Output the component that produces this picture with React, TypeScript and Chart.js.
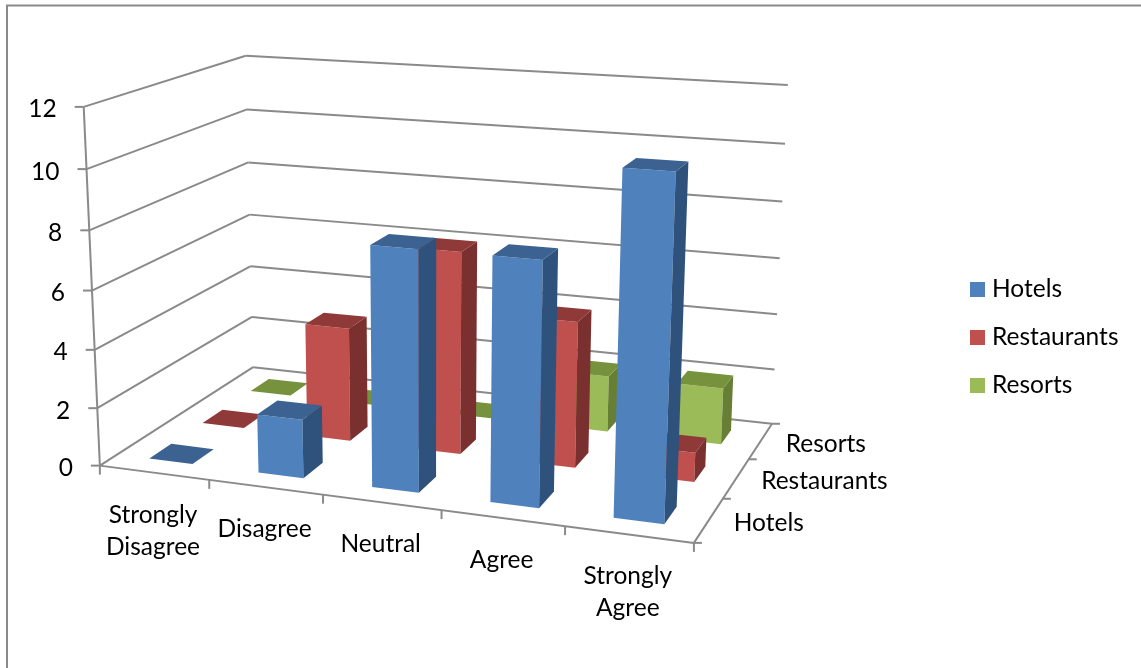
import React, { useEffect, useRef } from "react";
import { Chart, BarController, registerables } from "chart.js";

const responses = [["Strongly", "Disagree"], "Disagree", "Neutral", "Agree", ["Strongly", "Agree"]];
const seriesNames = ["Hotels", "Restaurants", "Resorts"];
const hotels = [0, 2, 8, 8, 11];
const restaurants = [0, 4, 7, 5, 1];
const resorts = [0, 0, 0, 2, 2];
const faceColors = ["#4F81BD", "#C0504D", "#9BBB59"];
const topColors = ["#3C6292", "#8F3A38", "#76923C"];
const sideColors = ["#2F527C", "#7A302E", "#677F35"];

const GRID = "#8A8A8A";
const FONT = "24.5px Lato";

// Seven corners of the plot box (x, value, depth) and where each one lands on the canvas.
const BOX_CORNERS: number[][] = [
  [0, 0, 0, 100, 465.7],
  [1, 0, 0, 694, 542.7],
  [0, 1, 0, 83.5, 107],
  [0, 0, 1, 253, 367],
  [1, 0, 1, 772, 424],
  [0, 1, 1, 246, 55.7],
  [1, 1, 1, 787.7, 85],
];

// Least-squares fit of a 3x4 projective camera to the box corners.
function solveCamera(corners: number[][]): number[] {
  const rows: number[][] = [];
  for (const [x, y, z, u, v] of corners) {
    rows.push([x, y, z, 1, 0, 0, 0, 0, -u * x, -u * y, -u * z, u]);
    rows.push([0, 0, 0, 0, x, y, z, 1, -v * x, -v * y, -v * z, v]);
  }
  const n = 11;
  const m = Array.from({ length: n }, (_, i) =>
    Array.from({ length: n + 1 }, (_, j) => rows.reduce((s, r) => s + r[i] * r[j], 0))
  );
  for (let c = 0; c < n; c++) {
    let p = c;
    for (let r = c + 1; r < n; r++) if (Math.abs(m[r][c]) > Math.abs(m[p][c])) p = r;
    [m[c], m[p]] = [m[p], m[c]];
    for (let r = 0; r < n; r++) {
      if (r === c) continue;
      const f = m[r][c] / m[c][c];
      for (let k = c; k <= n; k++) m[r][k] -= f * m[c][k];
    }
  }
  return m.map((row, i) => row[n] / row[i]);
}

const cam = solveCamera(BOX_CORNERS);
function project(x: number, y: number, z: number): [number, number] {
  const w = cam[8] * x + cam[9] * y + cam[10] * z + 1;
  return [
    (cam[0] * x + cam[1] * y + cam[2] * z + cam[3]) / w,
    (cam[4] * x + cam[5] * y + cam[6] * z + cam[7]) / w,
  ];
}

// Scale positions expressed as fractions of each axis, ready for the camera.
const fracX = (s: any, v: number) => (s.getPixelForValue(v) - s.left) / s.width;
const fracY = (s: any, v: number) => (s.bottom - s.getPixelForValue(v)) / s.height;

function poly(ctx: CanvasRenderingContext2D, pts: [number, number][], color: string) {
  ctx.fillStyle = color;
  ctx.beginPath();
  pts.forEach((p, i) => (i ? ctx.lineTo(p[0], p[1]) : ctx.moveTo(p[0], p[1])));
  ctx.closePath();
  ctx.fill();
}

// Bars take 40% of a category slot along both floor directions.
const BAR_FRACTION = 0.4;

class Bar3DController extends BarController {
  static id = "bar3d";
  static defaults = BarController.defaults;
  static overrides = BarController.overrides;

  draw() {
    const meta = this.getMeta();
    const ctx = this.chart.ctx;
    const { xScale, yScale } = meta as any;
    const zScale = (this.chart.scales as any).z;
    const k = this.index;
    const dx = (BAR_FRACTION / 2) / xScale.getLabels().length;
    const dz = (BAR_FRACTION / 2) / zScale.getLabels().length;
    const zc = fracX(zScale, k);
    const z0 = zc - dz;
    const z1 = zc + dz;
    ctx.save();
    for (let i = 0; i < meta.data.length; i++) {
      const xc = fracX(xScale, i);
      const x0 = xc - dx;
      const x1 = xc + dx;
      const value = (this.getParsed(i) as any).y;
      const top = fracY(yScale, value);
      if (value > 0) {
        poly(ctx, [project(x0, 0, z0), project(x1, 0, z0), project(x1, top, z0), project(x0, top, z0)], faceColors[k]);
        poly(ctx, [project(x1, 0, z0), project(x1, 0, z1), project(x1, top, z1), project(x1, top, z0)], sideColors[k]);
      }
      poly(ctx, [project(x0, top, z0), project(x1, top, z0), project(x1, top, z1), project(x0, top, z1)], topColors[k]);
    }
    ctx.restore();
  }
}

const box3d = {
  id: "box3d",
  beforeDatasetsDraw(chart: any) {
    const { ctx, scales } = chart;
    const { x: xs, y: ys, z: zs } = scales;
    const line = (a: [number, number], b: [number, number]) => {
      ctx.beginPath();
      ctx.moveTo(a[0], a[1]);
      ctx.lineTo(b[0], b[1]);
      ctx.stroke();
    };
    ctx.save();
    ctx.strokeStyle = GRID;

    // Outer frame, cut off by the canvas on the right and at the bottom.
    ctx.lineWidth = 2;
    ctx.beginPath();
    ctx.moveTo(7, 668);
    ctx.lineTo(7, 5.5);
    ctx.lineTo(1141, 5.5);
    ctx.stroke();

    ctx.fillStyle = "#000";
    ctx.font = FONT;
    ctx.textBaseline = "middle";

    // Value axis: wall gridlines, ticks and labels.
    ctx.textAlign = "right";
    for (const t of ys.ticks) {
      const f = fracY(ys, t.value);
      const a = project(0, f, 0);
      line(a, project(0, f, 1));
      line(project(0, f, 1), project(1, f, 1));
      line([a[0] - 9, a[1]], a);
      ctx.fillText(String(t.value), a[0] - 27, a[1] + 2.5);
    }
    line(project(0, 0, 0), project(0, 1, 0));

    // Floor edges.
    line(project(0, 0, 0), project(1, 0, 0));
    line(project(1, 0, 0), project(1, 0, 1));

    // Category axis along the front edge.
    const labels = xs.getLabels();
    ctx.textAlign = "center";
    for (let i = 0; i <= labels.length; i++) {
      const a = project(i / labels.length, 0, 0);
      line(a, [a[0], a[1] + 9]);
    }
    labels.forEach((label: string | string[], i: number) => {
      const a = project(fracX(xs, i), 0, 0);
      const lines = Array.isArray(label) ? label : [label];
      lines.forEach((s, j) => ctx.fillText(s, a[0] - 1, a[1] + 42 + j * 32));
    });

    // Depth axis along the right edge of the floor.
    const depth = zs.getLabels();
    ctx.textAlign = "left";
    for (let j = 0; j <= depth.length; j++) {
      const a = project(1, 0, j / depth.length);
      line(a, [a[0] + 8, a[1]]);
    }
    depth.forEach((label: string, j: number) => {
      const a = project(1, 0, fracX(zs, j));
      ctx.fillText(label, a[0] + 25, a[1] + 3);
    });

    // Legend column to the right of the plot box.
    chart.data.datasets.forEach((ds: any, i: number) => {
      const y = 289.5 + i * 48;
      ctx.fillStyle = ds.backgroundColor;
      ctx.fillRect(970, y - 7.5, 15, 15);
      ctx.fillStyle = "#000";
      ctx.fillText(ds.label, 992, y);
    });
    ctx.restore();
  },
};

Chart.register(...registerables, Bar3DController);

export default function App() {
  const ref = useRef<HTMLCanvasElement>(null);
  useEffect(() => {
    document.body.style.margin = "0";
    const series = [hotels, restaurants, resorts];
    const chart = new Chart(ref.current!, {
      type: "bar3d" as any,
      data: {
        labels: responses as any,
        datasets: seriesNames.map((name, i) => ({
          label: name,
          data: series[i],
          backgroundColor: faceColors[i],
          borderWidth: 0,
          clip: false as any,
        })),
      },
      plugins: [box3d],
      options: {
        responsive: false,
        animation: false,
        scales: {
          x: { type: "category", display: false, offset: true },
          y: { type: "linear", display: false, min: 0, max: 12, ticks: { stepSize: 2 } },
          z: { type: "category", axis: "x", position: "bottom", display: false, offset: true, labels: seriesNames } as any,
        },
        plugins: {
          tooltip: { enabled: false },
          legend: { display: false },
        },
      },
    });
    return () => chart.destroy();
  }, []);
  return <canvas ref={ref} width={1141} height={668} style={{ display: "block" }} />;
}
